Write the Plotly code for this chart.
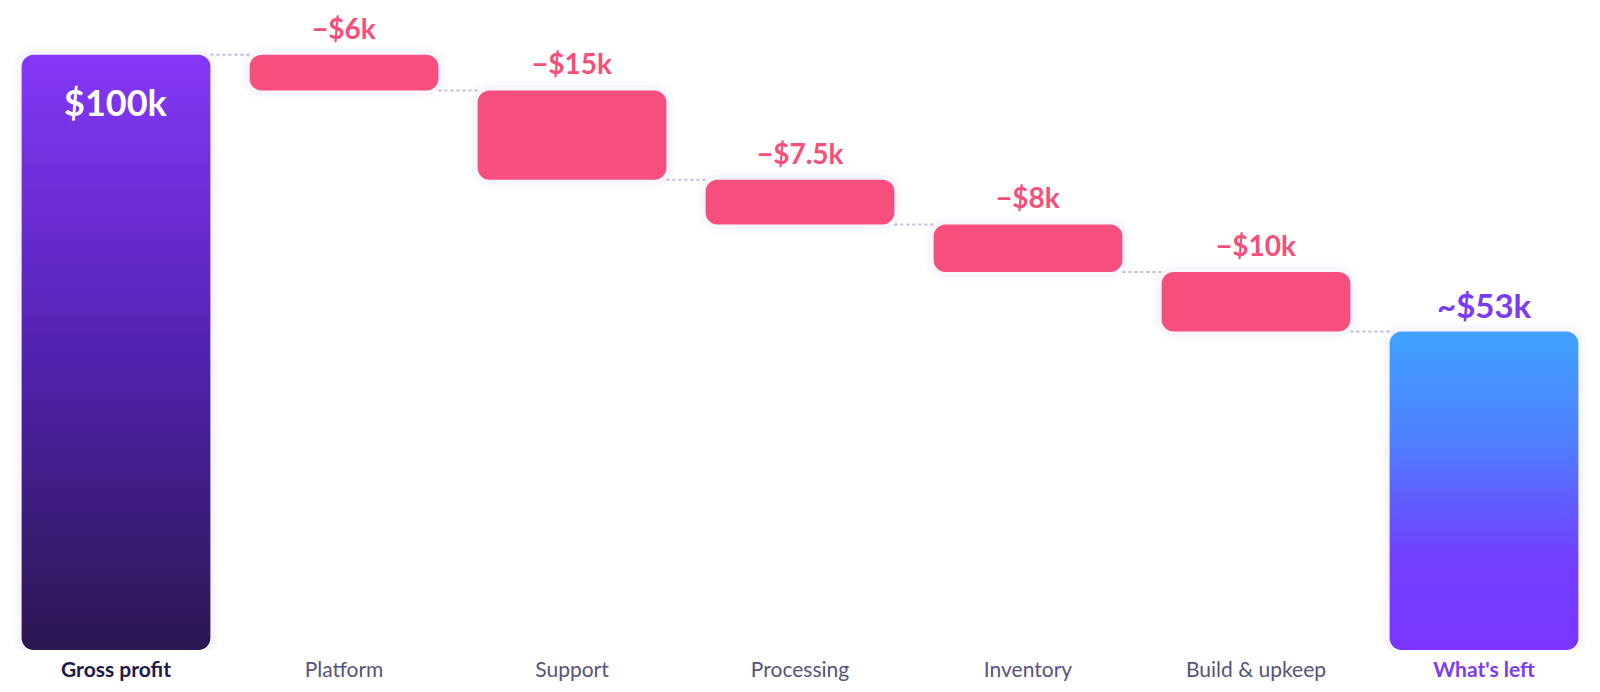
import numpy as np
import plotly.graph_objects as go

categories = ["Gross profit", "Platform", "Support", "Processing", "Inventory",
              "Build & upkeep", "What's left"]
gross_profit = 100
costs = [6, 15, 7.5, 8, 10]
cost_labels = ["−$6k", "−$15k", "−$7.5k", "−$8k", "−$10k"]
total_labels = ["$100k", "~$53k"]

# running level after each step
levels = [gross_profit]
for c in costs:
    levels.append(levels[-1] - c)
whats_left = levels[-1]

W, H = 1600, 692
MARGIN = dict(l=2, r=2, t=25, b=42)
Y_MAX = 105
BAR_W = 0.828
PX_X = (W - MARGIN["l"] - MARGIN["r"]) / len(categories)
PX_Y = (H - MARGIN["t"] - MARGIN["b"]) / Y_MAX

RED = "#FF4F78"
RED_TEXT = "#F74F79"
PURPLE = "#7B3AF5"
CONNECTOR = "#BEB9DE"


def rounded_rect(x0, x1, y0, y1, r_px, pad_px=0):
    rx, ry = r_px / PX_X, r_px / PX_Y
    px, py = pad_px / PX_X, pad_px / PX_Y
    x0, x1, y0, y1 = x0 - px, x1 + px, y0 - py, y1 + py
    xs, ys = [], []
    corners = [(x1 - rx, y1 - ry, 0), (x0 + rx, y1 - ry, 90),
               (x0 + rx, y0 + ry, 180), (x1 - rx, y0 + ry, 270)]
    for cx, cy, a0 in corners:
        t = np.radians(np.linspace(a0, a0 + 90, 8))
        xs.extend(cx + rx * np.cos(t))
        ys.extend(cy + ry * np.sin(t))
    xs.append(xs[0])
    ys.append(ys[0])
    return xs, ys


fig = go.Figure()

# soft glow behind every bar
tops = [gross_profit] + levels[:-1] + [whats_left]
bottoms = [0] + levels[1:] + [0]
for pad, alpha in [(9, 0.025), (5, 0.035)]:
    gx, gy = [], []
    for i in range(len(categories)):
        xs, ys = rounded_rect(i - BAR_W / 2, i + BAR_W / 2, bottoms[i], tops[i], 12 + pad, pad)
        gx += list(xs) + [None]
        gy += list(ys) + [None]
    fig.add_trace(go.Scatter(x=gx, y=gy, fill="toself", mode="none",
                             fillcolor=f"rgba(120,90,230,{alpha})",
                             hoverinfo="skip", showlegend=False))

# dotted connectors
cx, cy = [], []
for i, lvl in enumerate(levels):
    cx += [i + BAR_W / 2, i + 1 - BAR_W / 2, None]
    cy += [lvl, lvl, None]
fig.add_trace(go.Scatter(x=cx, y=cy, mode="lines",
                         line=dict(color=CONNECTOR, width=2, dash="dot"),
                         hoverinfo="skip", showlegend=False))

# gradient total bars
xs, ys = rounded_rect(-BAR_W / 2, BAR_W / 2, 0, gross_profit, 12)
fig.add_trace(go.Scatter(
    x=xs, y=ys, fill="toself", mode="none", showlegend=False,
    fillgradient=dict(type="vertical", start=0, stop=gross_profit,
                      colorscale=[[0, "#2A1750"], [0.5, "#5222B0"], [1, "#8538F8"]]),
    hoverinfo="skip"))
n = len(categories) - 1
xs, ys = rounded_rect(n - BAR_W / 2, n + BAR_W / 2, 0, whats_left, 12)
fig.add_trace(go.Scatter(
    x=xs, y=ys, fill="toself", mode="none", showlegend=False,
    fillgradient=dict(type="vertical", start=0, stop=whats_left,
                      colorscale=[[0, "#7A35FF"], [0.3, "#7140FF"],
                                  [0.65, "#4F7EFF"], [1, "#40A2FF"]]),
    hoverinfo="skip"))

# cost bars
fig.add_trace(go.Bar(
    x=list(range(1, len(costs) + 1)), y=costs, base=levels[1:],
    width=BAR_W, marker=dict(color=RED, cornerradius=12, line=dict(width=0)),
    showlegend=False, hovertemplate="%{y}k<extra></extra>"))

# value labels
for i, (lbl, top) in enumerate(zip(cost_labels, levels[:-1])):
    fig.add_annotation(x=i + 1, y=top, text=f"<b>{lbl}</b>", showarrow=False,
                       yanchor="middle", yshift=27,
                       font=dict(size=28, color=RED_TEXT))
fig.add_annotation(x=0, y=gross_profit, text=f"<b>{total_labels[0]}</b>", showarrow=False,
                   yanchor="middle", yshift=-47, font=dict(size=36, color="white"))
fig.add_annotation(x=n, y=whats_left, text=f"<b>{total_labels[1]}</b>", showarrow=False,
                   yanchor="middle", yshift=27, font=dict(size=33, color=PURPLE))

ticktext = [f"<b><span style='color:#22194A'>{categories[0]}</span></b>"]
ticktext += categories[1:-1]
ticktext += [f"<b><span style='color:{PURPLE}'>{categories[-1]}</span></b>"]

fig.update_layout(
    width=W, height=H, margin=MARGIN,
    paper_bgcolor="white", plot_bgcolor="white",
    barmode="overlay",
    font=dict(family="Lato, Open Sans, sans-serif", size=21, color="#57537A"),
    xaxis=dict(range=[-0.5, len(categories) - 0.5], tickvals=list(range(len(categories))),
               ticktext=ticktext, showgrid=False, zeroline=False, showline=False,
               ticks="", ticklabelstandoff=5, fixedrange=True),
    yaxis=dict(range=[0, Y_MAX], visible=False, showgrid=False, fixedrange=True),
)

# drop the browser's default body margin so the chart sits at the page corner
fig.write_html("out.html", config={"displayModeBar": False},
               post_script="document.body.style.margin='0px';")
